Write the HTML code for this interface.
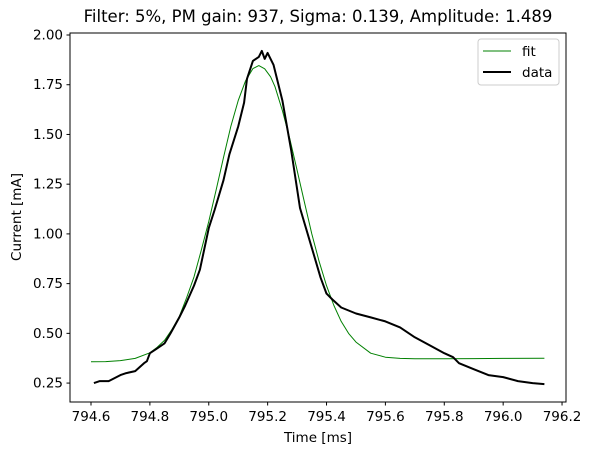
<!DOCTYPE html>
<html><head><meta charset="utf-8"><style>
body{margin:0;background:#fff;}
svg{display:block;font-family:"DejaVu Sans","Liberation Sans",sans-serif;}
</style></head><body>
<svg id="chart" width="591" height="455" viewBox="0 0 591 455">
<text x="318" y="22" text-anchor="middle" font-size="16.5" fill="#000">Filter: 5%, PM gain: 937, Sigma: 0.139, Amplitude: 1.489</text>
<g id="yticks"></g>
<g id="xticks"></g>
<g id="series"></g>
<rect x="70" y="33" width="496" height="369" fill="none" stroke="#000" stroke-width="1"/>
<text x="318" y="442" text-anchor="middle" font-size="13.5">Time [ms]</text>
<text transform="translate(21,217) rotate(-90)" text-anchor="middle" font-size="13.5">Current [mA]</text>
<g>
<rect x="478" y="39" width="81" height="46" rx="3" fill="#fff" stroke="#ccc"/>
<line x1="483" y1="51" x2="511" y2="51" stroke="green" stroke-width="1"/>
<text x="522" y="56" font-size="13.5">fit</text>
<line x1="483" y1="72" x2="511" y2="72" stroke="#000" stroke-width="2"/>
<text x="522" y="77" font-size="13.5">data</text>
</g>
</svg>
<script>
const yTickValues=[0.25,0.5,0.75,1.0,1.25,1.5,1.75,2.0];
const xTickValues=[794.6,794.8,795.0,795.2,795.4,795.6,795.8,796.0,796.2];
const fitT=[794.6,794.65,794.7,794.75,794.8,794.825,794.85,794.875,794.9,794.925,794.95,794.975,795.0,795.025,795.05,795.075,795.1,795.125,795.15,795.17,795.19,795.21,795.225,795.25,795.275,795.3,795.325,795.35,795.375,795.4,795.425,795.45,795.475,795.5,795.55,795.6,795.65,795.7,795.8,795.9,796.0,796.14];
const fitV=[0.357,0.358,0.363,0.374,0.402,0.43,0.465,0.52,0.584,0.68,0.784,0.92,1.063,1.22,1.384,1.54,1.670,1.77,1.831,1.846,1.83,1.79,1.74,1.62,1.48,1.32,1.16,1.0,0.86,0.74,0.64,0.56,0.50,0.456,0.40,0.38,0.374,0.372,0.372,0.373,0.374,0.375];
const dataT=[794.61,794.63,794.66,794.7,794.72,794.75,794.78,794.79,794.8,794.82,794.85,794.87,794.9,794.92,794.95,794.97,795.0,795.02,795.05,795.07,795.1,795.12,795.13,795.15,795.17,795.18,795.19,795.2,795.22,795.25,795.28,795.31,795.35,795.38,795.4,795.42,795.45,795.5,795.55,795.6,795.65,795.7,795.75,795.8,795.83,795.85,795.9,795.95,796.0,796.05,796.1,796.14];
const dataV=[0.25,0.26,0.26,0.29,0.30,0.31,0.35,0.36,0.40,0.42,0.45,0.50,0.58,0.64,0.74,0.82,1.03,1.12,1.27,1.40,1.54,1.66,1.78,1.87,1.89,1.92,1.88,1.91,1.85,1.67,1.42,1.13,0.93,0.78,0.70,0.67,0.63,0.60,0.58,0.56,0.53,0.48,0.44,0.40,0.38,0.35,0.32,0.29,0.28,0.26,0.25,0.245];
const NS="http://www.w3.org/2000/svg";
function xs(t){return 91+(t-794.6)*294.4;}
function ys(v){return 35+(2-v)*198.9;}
function mk(tag,attrs,parent){const e=document.createElementNS(NS,tag);for(const k in attrs)e.setAttribute(k,attrs[k]);parent.appendChild(e);return e;}
const yg=document.getElementById('yticks'),xg=document.getElementById('xticks'),sg=document.getElementById('series');
yTickValues.forEach(v=>{
 const l=mk('line',{x1:66.5,x2:70,y1:ys(v),y2:ys(v),stroke:'#000'},yg);
 
 
 const t=mk('text',{x:63,y:ys(v)+4.5,'text-anchor':'end','font-size':'13.5'},yg);
 t.textContent=v.toFixed(2);
 
 
});
xTickValues.forEach(v=>{
 const l=mk('line',{x1:xs(v),x2:xs(v),y1:402,y2:405.5,stroke:'#000'},xg);
 
 
 const t=mk('text',{x:xs(v),y:421,'text-anchor':'middle','font-size':'13.5'},xg);
 t.textContent=v.toFixed(1);
 
 
});
function pts(T,V){return T.map((t,i)=>xs(t).toFixed(1)+','+ys(V[i]).toFixed(1)).join(' ');}
const fl=mk('polyline',{points:pts(fitT,fitV),fill:'none',stroke:'green','stroke-width':1,'stroke-linejoin':'round'},sg);


const dl=mk('polyline',{points:pts(dataT,dataV),fill:'none',stroke:'#000','stroke-width':2,'stroke-linejoin':'round'},sg);


</script>
</body></html>
